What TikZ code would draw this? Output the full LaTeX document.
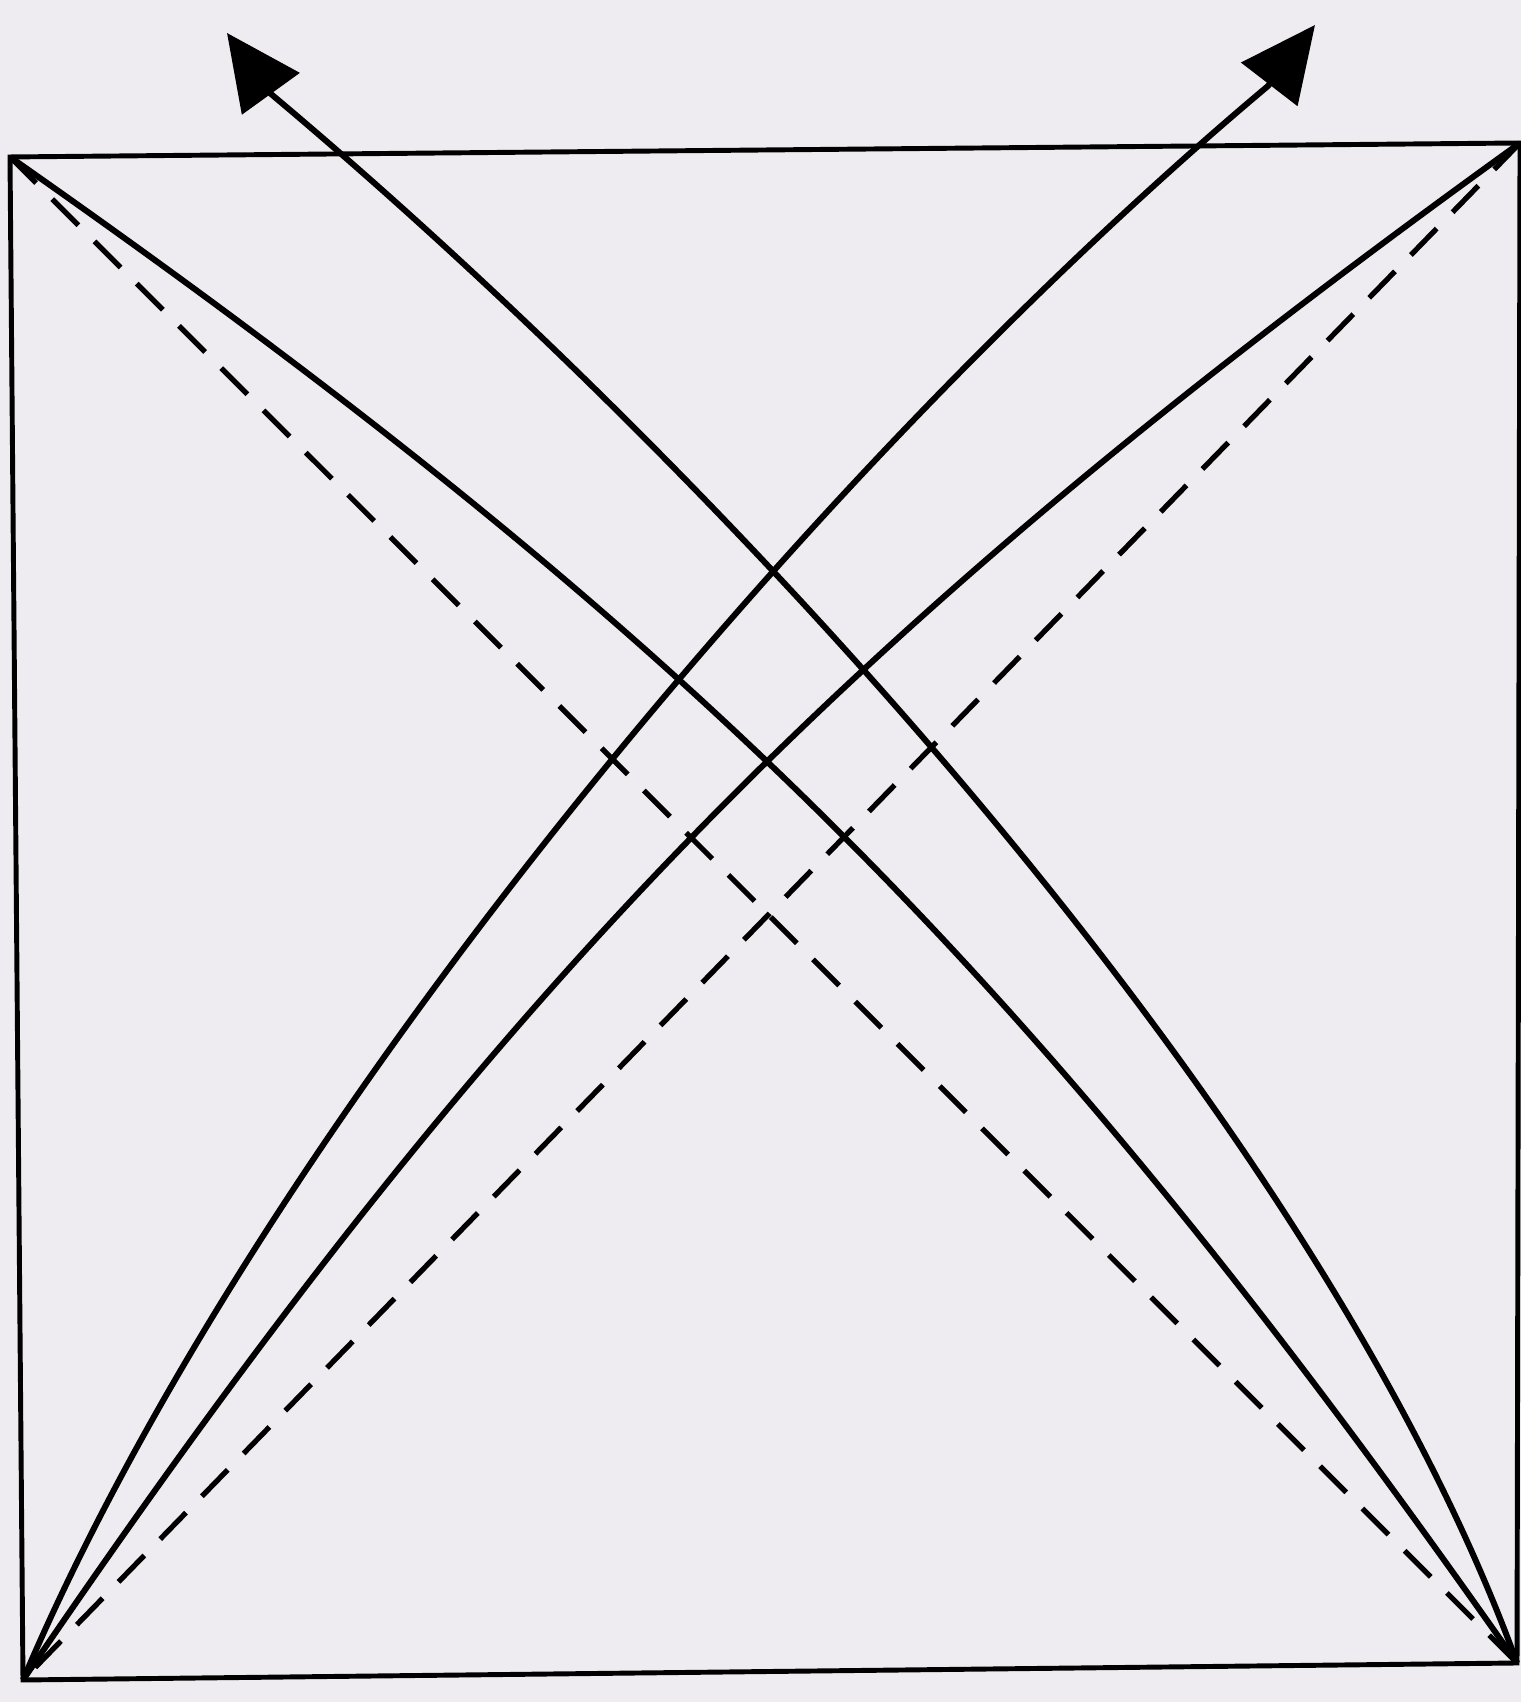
\documentclass[tikz,border=0pt]{standalone}
\usetikzlibrary{arrows.meta}

\definecolor{paper}{RGB}{238,236,240}

\begin{document}
\begin{tikzpicture}[
  x=0.1mm, y=0.1mm,
  frame/.style={line width=1.4pt},
  worldline/.style={line width=1.7pt},
  lightray/.style={line width=1.5pt, dash pattern=on 10.5pt off 6.5pt},
  signal/.style={worldline, -{Triangle[length=7.5mm, width=7mm]}}
]
\fill[paper] (0,0) rectangle (1521,1702);
\useasboundingbox (0,0) rectangle (1521,1702);

% corners of the frame and the two arrow tips
\coordinate (tl) at (10,1545);
\coordinate (tr) at (1520,1559);
\coordinate (bl) at (23,22);
\coordinate (br) at (1517,39);
\coordinate (neckl) at (271,1608);
\coordinate (tipl) at (227,1669);
\coordinate (neckr) at (1268,1616);
\coordinate (tipr) at (1315,1677);

\draw[frame] (tl) -- (tr) -- (br) -- (bl) -- cycle;

% diagonals
\draw[lightray] (tl) -- (br);
\draw[lightray] (tr) -- (bl);

% curves
\draw[worldline] (tl) to[bend left=10] (br);
\draw[worldline] (bl) to[bend left=10] (tr);
\draw[signal] (br) to[out=110, in=-40, looseness=0.75] (neckl) -- (tipl);
\draw[signal] (bl) to[out=67, in=-140, looseness=0.75] (neckr) -- (tipr);
\end{tikzpicture}
\end{document}
